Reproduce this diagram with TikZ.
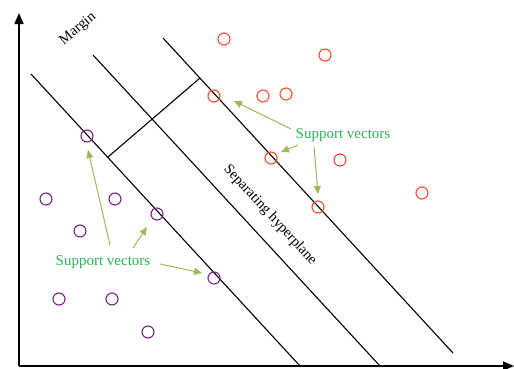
\documentclass[tikz,border=0pt]{standalone}
\usepackage{fontspec}
\setmainfont{Liberation Serif}
\usetikzlibrary{arrows.meta}
\definecolor{redpt}{HTML}{FF4A2A}
\definecolor{purppt}{HTML}{7A1F86}
\definecolor{svtext}{HTML}{2DB05A}
\definecolor{svarrow}{HTML}{9BBB59}
\tikzset{
  redc/.style={circle,draw=redpt,line width=1.1pt,minimum size=12pt,inner sep=0pt},
  purc/.style={circle,draw=purppt,line width=1.1pt,minimum size=12pt,inner sep=0pt},
  hline/.style={black,line width=1.1pt},
  axis/.style={black,line width=1.6pt,-{Triangle[length=11pt,width=9pt]}},
  svlabel/.style={text=svtext,font=\fontsize{15}{17}\selectfont,inner sep=1pt},
  svarr/.style={svarrow,line width=1pt,-{Triangle[length=8pt,width=7pt]}},
  lbl/.style={font=\fontsize{14.5}{16}\selectfont,inner sep=1pt}
}
\begin{document}
\begin{tikzpicture}[x=1pt,y=-1pt]
\useasboundingbox (0,0) rectangle (514,368);
% axes
\coordinate (O) at (19,366);
\coordinate (Ytop) at (19,13);
\coordinate (Xend) at (514,366);
\draw[axis] (O) -- (Ytop);
\draw[axis] (O) -- (Xend);
% hyperplanes
\coordinate (m1a) at (31,74);  \coordinate (m1b) at (300,366);
\coordinate (h0a) at (93,55);  \coordinate (h0b) at (380,366);
\coordinate (m2a) at (163,38); \coordinate (m2b) at (453,353);
\draw[hline] (m1a) -- (m1b);
\draw[hline] (h0a) -- (h0b);
\draw[hline] (m2a) -- (m2b);
\coordinate (pa) at (108,157); \coordinate (pb) at (200,78);
\draw[hline] (pa) -- (pb);
% labels
\node[lbl,rotate=40] (margin) at (78,29) {Margin};
\node[lbl,rotate=-47.3] (sep) at (270,215) {Separating hyperplane};
% red points
\node[redc] (r1) at (224,39) {};
\node[redc] (r2) at (325,55) {};
\node[redc] (r3) at (214,96) {};
\node[redc] (r4) at (263,96) {};
\node[redc] (r5) at (286,94) {};
\node[redc] (r6) at (271,158) {};
\node[redc] (r7) at (340,160) {};
\node[redc] (r8) at (422,193) {};
\node[redc] (r9) at (318,207) {};
% purple points
\node[purc] (p1) at (87,136) {};
\node[purc] (p2) at (46,199) {};
\node[purc] (p3) at (115,199) {};
\node[purc] (p4) at (80,231) {};
\node[purc] (p5) at (157,214) {};
\node[purc] (p6) at (214,278) {};
\node[purc] (p7) at (59,299) {};
\node[purc] (p8) at (112,299) {};
\node[purc] (p9) at (148,332) {};
% support vector labels
\node[svlabel] (svr) at (343,135) {Support vectors};
\node[svlabel] (svl) at (103,262) {Support vectors};
% arrows
\coordinate (a1s) at (291,129); \coordinate (a1e) at (234,101);
\coordinate (a2s) at (298,145); \coordinate (a2e) at (281,152);
\coordinate (a3s) at (314,147); \coordinate (a3e) at (318,194);
\coordinate (a4s) at (110,245); \coordinate (a4e) at (88,150);
\coordinate (a5s) at (133,248); \coordinate (a5e) at (147,227);
\coordinate (a6s) at (160,264); \coordinate (a6e) at (202,273);
\draw[svarr] (a1s) -- (a1e);
\draw[svarr] (a2s) -- (a2e);
\draw[svarr] (a3s) -- (a3e);
\draw[svarr] (a4s) -- (a4e);
\draw[svarr] (a5s) -- (a5e);
\draw[svarr] (a6s) -- (a6e);
\end{tikzpicture}
\end{document}
